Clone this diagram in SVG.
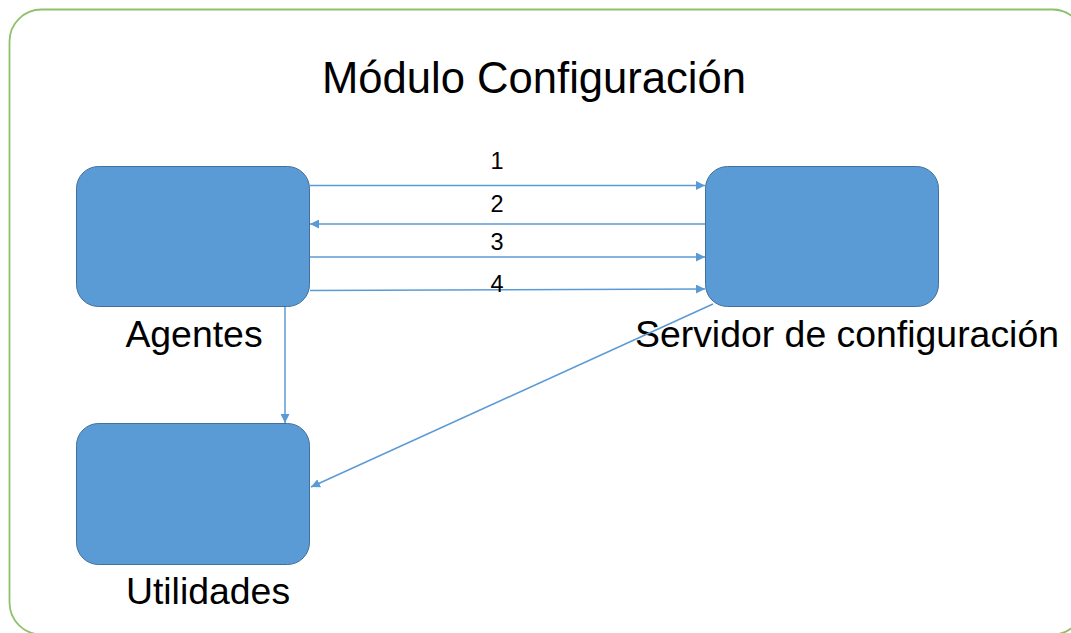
<svg xmlns="http://www.w3.org/2000/svg" width="1071" height="633" viewBox="0 0 1071 633">
  <style>
    .node rect { fill: #5B9BD5; stroke: #41719C; stroke-width: 1; }
    .label { font-family: "Liberation Sans", Arial, sans-serif; font-size: 37.4px; fill: #000; text-anchor: middle; }
    .num { font-family: "Liberation Sans", Arial, sans-serif; font-size: 23.5px; fill: #000; text-anchor: middle; }
    .conn { stroke: #5B9BD5; stroke-width: 1.5; fill: none; marker-end: url(#arrow); }
  </style>
  <defs>
    <marker id="arrow" viewBox="0 0 10 10" refX="10" refY="5" markerWidth="6" markerHeight="6" orient="auto" markerUnits="strokeWidth">
      <path d="M0,0 L10,5 L0,10 Z" fill="#5B9BD5"/>
    </marker>
  </defs>

  <rect width="1071" height="633" fill="#fff"/>

  <!-- module frame -->
  <g id="module">
    <rect x="9.5" y="9.5" width="1075" height="625" rx="32" ry="32" fill="none" stroke="#8DC26A" stroke-width="1.8"/>
    <text class="label" x="534" y="93" style="font-size:43.6px">Módulo Configuración</text>
  </g>

  <g id="agentes" class="node">
    <rect x="76.5" y="166.5" width="233" height="140" rx="22" ry="22"/>
    <text class="label" x="194" y="347">Agentes</text>
  </g>

  <g id="servidor" class="node">
    <rect x="705.5" y="166.5" width="233" height="140" rx="22" ry="22"/>
    <text class="label" x="847" y="347">Servidor de configuración</text>
  </g>

  <g id="utilidades" class="node">
    <rect x="76.5" y="423.5" width="233" height="141" rx="22" ry="22"/>
    <text class="label" x="208" y="604">Utilidades</text>
  </g>

  <g id="connectors">
    <line class="conn" x1="310" y1="185.5" x2="705" y2="185.5"/>
    <line class="conn" x1="705" y1="224" x2="310" y2="224"/>
    <line class="conn" x1="310" y1="257" x2="705" y2="257"/>
    <line class="conn" x1="310" y1="290.5" x2="705" y2="289"/>
    <line class="conn" x1="285" y1="307" x2="285" y2="423"/>
    <line class="conn" x1="713" y1="304" x2="311" y2="487"/>
    <text class="num" x="497" y="169">1</text>
    <text class="num" x="497" y="212">2</text>
    <text class="num" x="497" y="250">3</text>
    <text class="num" x="497" y="292">4</text>
  </g>
</svg>
